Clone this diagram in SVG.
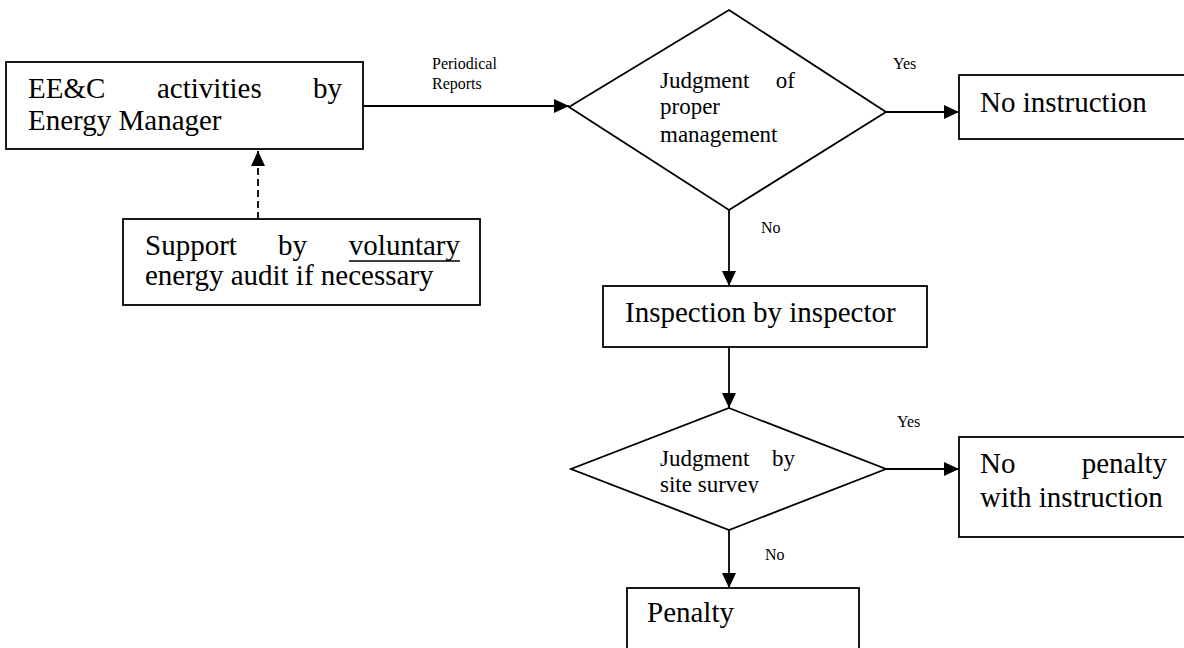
<svg xmlns="http://www.w3.org/2000/svg" width="1184" height="648" viewBox="0 0 1184 648">
  <style>
    .box { fill: #ffffff; stroke: #000000; stroke-width: 1.8; }
    .edge { fill: none; stroke: #000000; stroke-width: 1.8; }
    .dash { stroke-dasharray: 7 4; }
    .t { font-family: "Liberation Serif", "Times New Roman", serif; font-size: 29px; fill: #000000; }
    .d { font-family: "Liberation Serif", "Times New Roman", serif; font-size: 23px; fill: #000000; }
    .lbl { font-family: "Liberation Serif", "Times New Roman", serif; font-size: 16px; fill: #000000; }
    .end { text-anchor: end; }
  </style>
  <defs>
    <marker id="arrow" markerUnits="userSpaceOnUse" markerWidth="16" markerHeight="14" refX="15" refY="7" orient="auto">
      <path d="M0,0 L15,7 L0,14 Z" fill="#000000"/>
    </marker>
    <clipPath id="clip-survey">
      <rect x="600" y="470" width="250" height="23"/>
    </clipPath>
  </defs>
  <rect width="1184" height="648" fill="#ffffff"/>

  <!-- connectors -->
  <g id="connectors">
    <line class="edge" x1="363" y1="106" x2="569" y2="106" marker-end="url(#arrow)"/>
    <line class="edge dash" x1="258" y1="219" x2="258" y2="151" marker-end="url(#arrow)"/>
    <line class="edge" x1="886" y1="112" x2="959" y2="112" marker-end="url(#arrow)"/>
    <line class="edge" x1="729" y1="210" x2="729" y2="286" marker-end="url(#arrow)"/>
    <line class="edge" x1="729" y1="347" x2="729" y2="408" marker-end="url(#arrow)"/>
    <line class="edge" x1="886" y1="469" x2="959" y2="469" marker-end="url(#arrow)"/>
    <line class="edge" x1="729" y1="530" x2="729" y2="588" marker-end="url(#arrow)"/>
    <text class="lbl" x="432" y="69">Periodical</text>
    <text class="lbl" x="432" y="89">Reports</text>
    <text class="lbl" x="893" y="69">Yes</text>
    <text class="lbl" x="761" y="233">No</text>
    <text class="lbl" x="897" y="427">Yes</text>
    <text class="lbl" x="765" y="560">No</text>
  </g>

  <!-- activities of the energy manager -->
  <g id="node-activities">
    <rect class="box" x="6" y="62" width="357" height="87"/>
    <text class="t" x="28" y="98">EE&amp;C</text>
    <text class="t" x="157" y="98">activities</text>
    <text class="t end" x="342" y="98">by</text>
    <text class="t" x="28" y="130">Energy Manager</text>
  </g>

  <!-- voluntary audit support -->
  <g id="node-support">
    <rect class="box" x="123" y="219" width="357" height="86"/>
    <text class="t" x="145" y="255">Support</text>
    <text class="t" x="278" y="255">by</text>
    <text class="t end" x="460" y="255">voluntary</text>
    <line x1="349" y1="261" x2="460" y2="261" stroke="#000000" stroke-width="1.4"/>
    <text class="t" x="145" y="285">energy audit if necessary</text>
  </g>

  <!-- decision: proper management -->
  <g id="node-judgment-management">
    <polygon class="box" points="729,10 886,112 729,210 569,107"/>
    <text class="d" x="660" y="88">Judgment</text>
    <text class="d end" x="795" y="88">of</text>
    <text class="d" x="660" y="114">proper</text>
    <text class="d" x="660" y="142">management</text>
  </g>

  <!-- outcome: no instruction -->
  <g id="node-no-instruction">
    <rect class="box" x="959" y="75" width="230" height="64"/>
    <text class="t" x="980" y="112">No instruction</text>
  </g>

  <!-- inspection -->
  <g id="node-inspection">
    <rect class="box" x="603" y="286" width="324" height="61"/>
    <text class="t" x="625" y="322">Inspection by inspector</text>
  </g>

  <!-- decision: site survey -->
  <g id="node-judgment-survey">
    <polygon class="box" points="729,408 886,469 729,530 571,469"/>
    <text class="d" x="660" y="466">Judgment</text>
    <text class="d end" x="795" y="466">by</text>
    <text class="d" x="660" y="492" clip-path="url(#clip-survey)">site survey</text>
  </g>

  <!-- outcome: no penalty with instruction -->
  <g id="node-no-penalty">
    <rect class="box" x="959" y="437" width="230" height="100"/>
    <text class="t" x="980" y="473">No</text>
    <text class="t end" x="1167" y="473">penalty</text>
    <text class="t" x="980" y="507">with instruction</text>
  </g>

  <!-- outcome: penalty -->
  <g id="node-penalty">
    <rect class="box" x="627" y="588" width="232" height="70"/>
    <text class="t" x="647" y="622">Penalty</text>
  </g>
</svg>
